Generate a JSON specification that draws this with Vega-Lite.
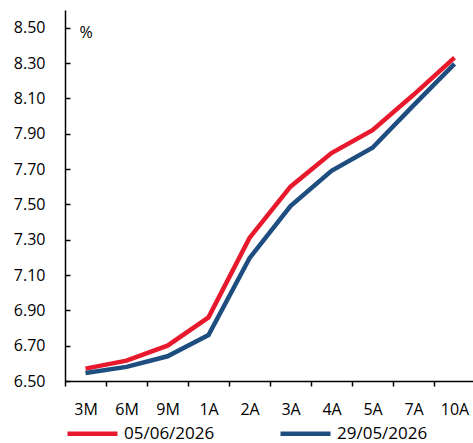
{
  "$schema": "https://vega.github.io/schema/vega-lite/v6.json",
  "autosize": "none",
  "width": 410,
  "height": 371,
  "padding": {"left": 65, "top": 10, "right": 0, "bottom": 62},
  "background": "white",
  "title": {"text": "Curva TIIE de Fondeo", "font": "Open Sans", "fontSize": 17, "fontWeight": "bold", "color": "black", "anchor": "middle", "dx": -28, "baseline": "alphabetic", "offset": -2},
  "data": {"values": [
    {"plazo": "3M", "serie": "05/06/2026", "tasa": 6.57},
    {"plazo": "6M", "serie": "05/06/2026", "tasa": 6.615},
    {"plazo": "9M", "serie": "05/06/2026", "tasa": 6.70},
    {"plazo": "1A", "serie": "05/06/2026", "tasa": 6.86},
    {"plazo": "2A", "serie": "05/06/2026", "tasa": 7.31},
    {"plazo": "3A", "serie": "05/06/2026", "tasa": 7.60},
    {"plazo": "4A", "serie": "05/06/2026", "tasa": 7.79},
    {"plazo": "5A", "serie": "05/06/2026", "tasa": 7.92},
    {"plazo": "7A", "serie": "05/06/2026", "tasa": 8.12},
    {"plazo": "10A", "serie": "05/06/2026", "tasa": 8.33},
    {"plazo": "3M", "serie": "29/05/2026", "tasa": 6.545},
    {"plazo": "6M", "serie": "29/05/2026", "tasa": 6.58},
    {"plazo": "9M", "serie": "29/05/2026", "tasa": 6.64},
    {"plazo": "1A", "serie": "29/05/2026", "tasa": 6.76},
    {"plazo": "2A", "serie": "29/05/2026", "tasa": 7.195},
    {"plazo": "3A", "serie": "29/05/2026", "tasa": 7.49},
    {"plazo": "4A", "serie": "29/05/2026", "tasa": 7.69},
    {"plazo": "5A", "serie": "29/05/2026", "tasa": 7.82},
    {"plazo": "7A", "serie": "29/05/2026", "tasa": 8.06},
    {"plazo": "10A", "serie": "29/05/2026", "tasa": 8.295}
  ]},
  "mark": {"type": "line", "strokeWidth": 4.5, "strokeJoin": "miter"},
  "encoding": {
    "x": {
      "field": "plazo", "type": "nominal",
      "sort": ["3M", "6M", "9M", "1A", "2A", "3A", "4A", "5A", "7A", "10A"],
      "scale": {"type": "band", "paddingInner": 0, "paddingOuter": 0},
      "axis": {"title": null, "labelAngle": 0, "labelFont": "Open Sans", "labelFontSize": 16, "labelColor": "black", "labelPadding": 15, "tickBand": "extent", "tickSize": 5, "tickColor": "black", "domainColor": "black", "domainWidth": 1.5, "tickWidth": 1.5, "grid": false}
    },
    "y": {
      "field": "tasa", "type": "quantitative",
      "scale": {"domain": [6.5, 8.6], "nice": false, "zero": false},
      "axis": {"title": "%", "titleAngle": 0, "titleFont": "Open Sans", "titleFontSize": 16, "titleFontWeight": "normal", "titleColor": "black", "titleAlign": "left", "titleBaseline": "middle", "titleX": 14, "titleY": 22, "values": [6.5, 6.7, 6.9, 7.1, 7.3, 7.5, 7.7, 7.9, 8.1, 8.3, 8.5], "format": ".2f", "labelFont": "Open Sans", "labelFontSize": 16, "labelColor": "black", "tickSize": -5, "labelPadding": 25, "tickColor": "black", "domainColor": "black", "domainWidth": 1.5, "tickWidth": 1.5, "grid": false}
    },
    "color": {
      "field": "serie", "type": "nominal",
      "scale": {"domain": ["05/06/2026", "29/05/2026"], "range": ["#e8192c", "#1e4d80"]},
      "legend": {"title": null, "orient": "bottom", "direction": "horizontal", "symbolType": "stroke", "symbolSize": 2500, "symbolStrokeWidth": 4.5, "labelFont": "Open Sans", "labelFontSize": 17, "labelColor": "black", "columnPadding": 56, "offset": -11, "padding": 0, "labelOffset": 4}
    }
  },
  "config": {"view": {"stroke": null}}
}
